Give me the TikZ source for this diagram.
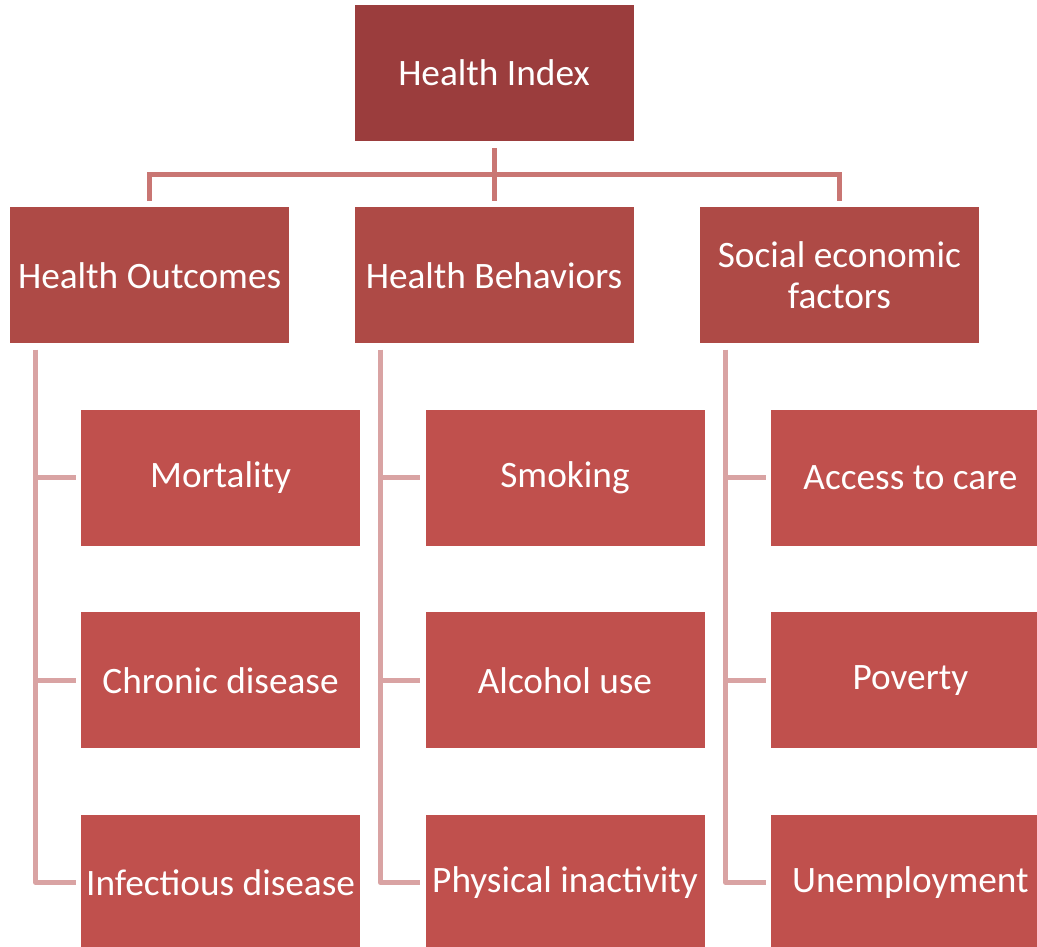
\documentclass[tikz,border=0pt]{standalone}
\usepackage{fontspec}
\setmainfont{Carlito}
\usepackage{tikz}
\usetikzlibrary{positioning,calc}

\definecolor{topred}{HTML}{9B3D3D}
\definecolor{midred}{HTML}{AE4A46}
\definecolor{lowred}{HTML}{C0504D}
\definecolor{linktop}{HTML}{C97673}
\definecolor{linklow}{HTML}{D9A3A3}

\begin{document}
\begin{tikzpicture}[
  x=1pt, y=-1pt,
  box/.style={minimum width=279pt, minimum height=136pt, inner sep=0pt, text=white, align=center,
      font=\fontsize{37.3}{41}\selectfont},
  rootbox/.style={box, fill=topred},
  catbox/.style={box, fill=midred},
  itembox/.style={box, fill=lowred},
  toplink/.style={draw=linktop, line width=5pt},
  sublink/.style={draw=linklow, line width=5pt},
]
  \useasboundingbox (0,0) rectangle (1037,946);
  \clip (0,0) rectangle (1037,946);

  \node (index)[rootbox] at (494,73) {Health Index};

  % categories
  \node (behav)[catbox, below=66pt of index] {Health Behaviors};
  \node (outc)[catbox, left=65pt of behav] {Health Outcomes};
  \node (socio)[catbox, right=66pt of behav] {Social economic\\factors};

  \draw[toplink] ($(index.south)+(0,7)$) coordinate (ia) -- ($(behav.north)+(0,-6)$);
  \draw[toplink] ($(outc.north)+(0,-6)$) coordinate (oa) |- (ia |- 0,174) -| ($(socio.north)+(0,-6)$);

  % Health Outcomes
  \node (mort)[itembox, below=66pt of outc, xshift=71pt] {Mortality};
  \node (chron)[itembox, below=66pt of mort] {Chronic disease};
  \node (infec)[itembox, below=66pt of chron] {Infectious disease};

  % Health Behaviors
  \node (smok)[itembox, below=66pt of behav, xshift=71pt] {Smoking};
  \node (alco)[itembox, below=66pt of smok] {Alcohol use};
  \node (inact)[itembox, below=66pt of alco] {Physical inactivity};

  % Social economic factors
  \node (care)[itembox, below=66pt of socio, xshift=71pt] {Access to care};
  \node (pov)[itembox, below=66pt of care] {Poverty};
  \node (unemp)[itembox, below=66pt of pov] {Unemployment};

  \foreach \cat/\a/\b/\c in {outc/mort/chron/infec, behav/smok/alco/inact, socio/care/pov/unemp} {
    \coordinate (spine) at ($(\cat.south west)+(26,6)$);
    \draw[sublink, line join=round] (spine) |- ($(\c.west)+(-5,0)$);
    \draw[sublink] (spine |- \a.west) -- ($(\a.west)+(-5,0)$);
    \draw[sublink] (spine |- \b.west) -- ($(\b.west)+(-5,0)$);
  }
\end{tikzpicture}
\end{document}
